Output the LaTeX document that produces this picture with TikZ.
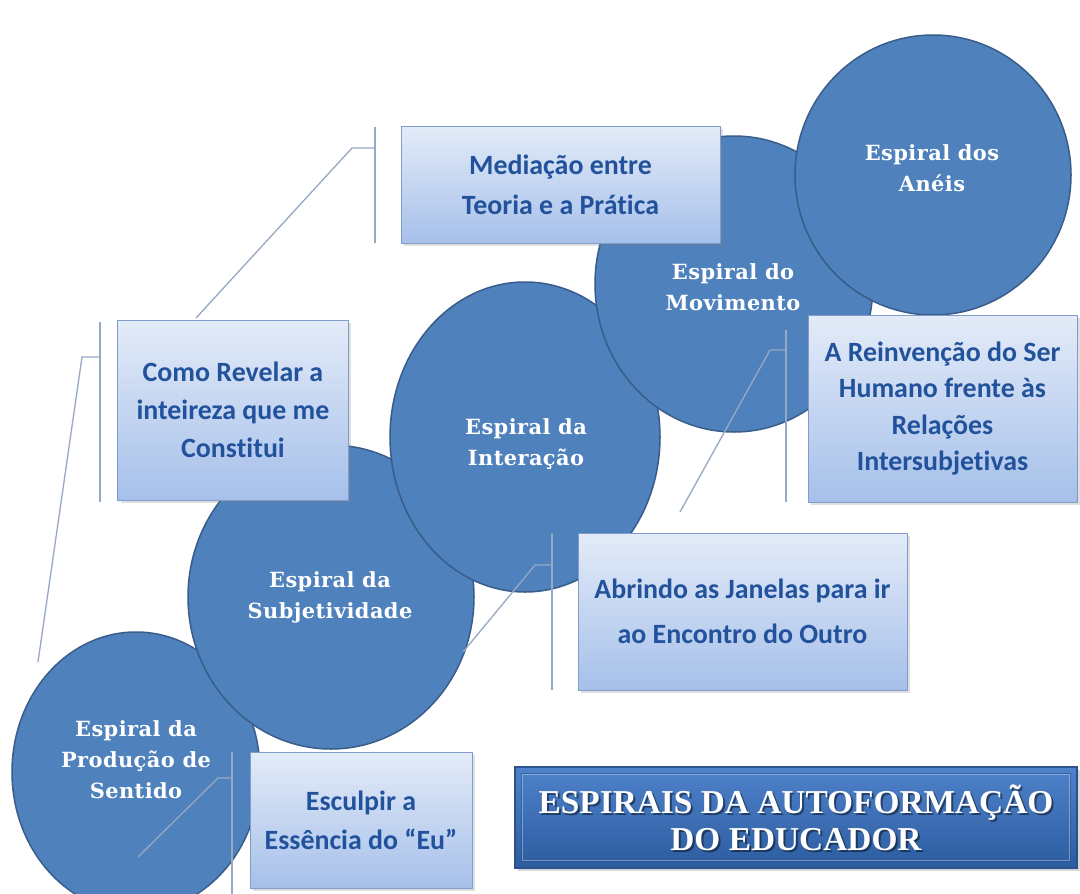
\documentclass[tikz,border=0pt]{standalone}
\usepackage{fontspec}
\setmainfont{DejaVu Serif}
\newfontfamily\boxfont[Ligatures=NoCommon]{Carlito}
\newfontfamily\circfont[LetterSpace=2]{DejaVu Serif}
\newfontfamily\titlefont{Liberation Serif}
\usetikzlibrary{shapes.geometric,shadows}
\definecolor{circfill}{HTML}{4F81BD}
\definecolor{circline}{HTML}{385D8A}
\definecolor{boxtop}{HTML}{E3EBF8}
\definecolor{boxbot}{HTML}{A6C0EA}
\definecolor{boxline}{HTML}{7F9CCB}
\definecolor{boxtext}{HTML}{22529C}
\definecolor{calline}{HTML}{96A8C2}
\definecolor{titletop}{HTML}{4F82CB}
\definecolor{titlebot}{HTML}{2C5C9F}
\definecolor{titleline}{HTML}{2A528C}
\begin{document}
\begin{tikzpicture}[x=1bp,y=-1bp,
  spiral/.style={ellipse, draw=circline, line width=1.5bp, fill=circfill, inner sep=0pt},
  spiraltext/.style={text=white, align=center, font=\circfont\bfseries\fontsize{21}{31}\selectfont},
  infobox/.style={rectangle, draw=boxline, line width=1bp, top color=boxtop, bottom color=boxbot,
     drop shadow={shadow xshift=3bp, shadow yshift=-3bp, opacity=0.25}, inner sep=0pt,
     align=center, text=boxtext},
  callout/.style={draw=calline, line width=1.3bp},
]
\useasboundingbox[fill=white] (0,0) rectangle (1080,894);

% spirals
\node[spiral, minimum width=248bp, minimum height=280bp] (c1) at (136,772) {};
\node[spiraltext] (t1) at (136,760) {Espiral da\\Produção de\\Sentido};
\node[spiral, minimum width=286bp, minimum height=304bp] (c2) at (331,597) {};
\node[spiraltext] (t2) at (330,597) {Espiral da\\Subjetividade};
\node[spiral, minimum width=270bp, minimum height=310bp] (c3) at (525,437) {};
\node[spiraltext] (t3) at (526,444) {Espiral da\\Interação};
\node[spiral, minimum width=278bp, minimum height=296bp] (c4) at (734,284) {};
\node[spiraltext] (t4) at (733,287) {Espiral do\\Movimento};
\node[spiral, minimum width=276bp, minimum height=280bp] (c5) at (933,175) {};
\node[spiraltext] (t5) at (932,168) {Espiral dos\\Anéis};

% callout coordinates
\coordinate (m1) at (375,127); \coordinate (m2) at (375,243);
\coordinate (mh) at (375,148); \coordinate (me) at (352,148); \coordinate (md) at (196,318);
\coordinate (k1) at (100,322); \coordinate (k2) at (100,502);
\coordinate (kh) at (100,357); \coordinate (ke) at (82,357); \coordinate (kd) at (38,662);
\coordinate (r1) at (786,330); \coordinate (r2) at (786,502);
\coordinate (rh) at (786,350); \coordinate (re) at (770,350); \coordinate (rd) at (680,512);
\coordinate (a1) at (552,533); \coordinate (a2) at (552,690);
\coordinate (ah) at (552,565); \coordinate (ae) at (535,565); \coordinate (ad) at (463,652);
\coordinate (e1) at (232,752); \coordinate (e2) at (232,894);
\coordinate (eh) at (232,778); \coordinate (ee) at (218,778); \coordinate (ed) at (138,857);
\foreach \p in {m,k,r,a,e}{
  \draw[callout] (\p1) -- (\p2);
  \draw[callout] (\p d) -- (\p e) -- (\p h);
}

% boxes
\node[infobox, minimum width=319bp, minimum height=117bp,
  font=\boxfont\bfseries\fontsize{28}{40}\selectfont] (b1) at (560.5,184.5)
  {Mediação entre\\Teoria e a Prática};
\node[infobox, minimum width=230bp, minimum height=180bp,
  font=\boxfont\bfseries\fontsize{28}{38}\selectfont] (b2) at (233,410)
  {Como Revelar a\\inteireza que me\\Constitui};
\node[infobox, minimum width=269bp, minimum height=187bp,
  font=\boxfont\bfseries\fontsize{28}{36.5}\selectfont] (b3) at (942.5,408.5)
  {A Reinvenção do Ser\\Humano frente às\\Relações\\Intersubjetivas};
\node[infobox, minimum width=329bp, minimum height=157bp,
  font=\boxfont\bfseries\fontsize{28}{45}\selectfont] (b4) at (742.5,611.5)
  {Abrindo as Janelas para ir\\ao Encontro do Outro};
\node[infobox, minimum width=222bp, minimum height=136bp,
  font=\boxfont\bfseries\fontsize{28}{39}\selectfont] (b5) at (361,820)
  {Esculpir a\\Essência do “Eu”};

% title
\node[rectangle, draw=titleline, line width=1.2bp, top color=titletop, bottom color=titlebot,
  minimum width=562bp, minimum height=101bp, inner sep=0pt,
  drop shadow={shadow xshift=3bp, shadow yshift=-3bp, opacity=0.3}] (title) at (796,817.5) {};
\draw[white, opacity=0.35, line width=1bp] ([shift={(8,-8)}]title.south west) rectangle ([shift={(-8,8)}]title.north east);
\draw[titleline, opacity=0.6, line width=1bp] ([shift={(7,-7)}]title.south west) rectangle ([shift={(-7,7)}]title.north east);
\node[text=black, opacity=0.45, align=center, font=\titlefont\bfseries\fontsize{33.5}{37}\selectfont]
  (titleshadow) at ([shift={(2,2)}]title.center) {ESPIRAIS DA AUTOFORMAÇÃO\\DO EDUCADOR};
\node[text=white, align=center, font=\titlefont\bfseries\fontsize{33.5}{37}\selectfont]
  (titletext) at (title.center) {ESPIRAIS DA AUTOFORMAÇÃO\\DO EDUCADOR};
\end{tikzpicture}
\end{document}
